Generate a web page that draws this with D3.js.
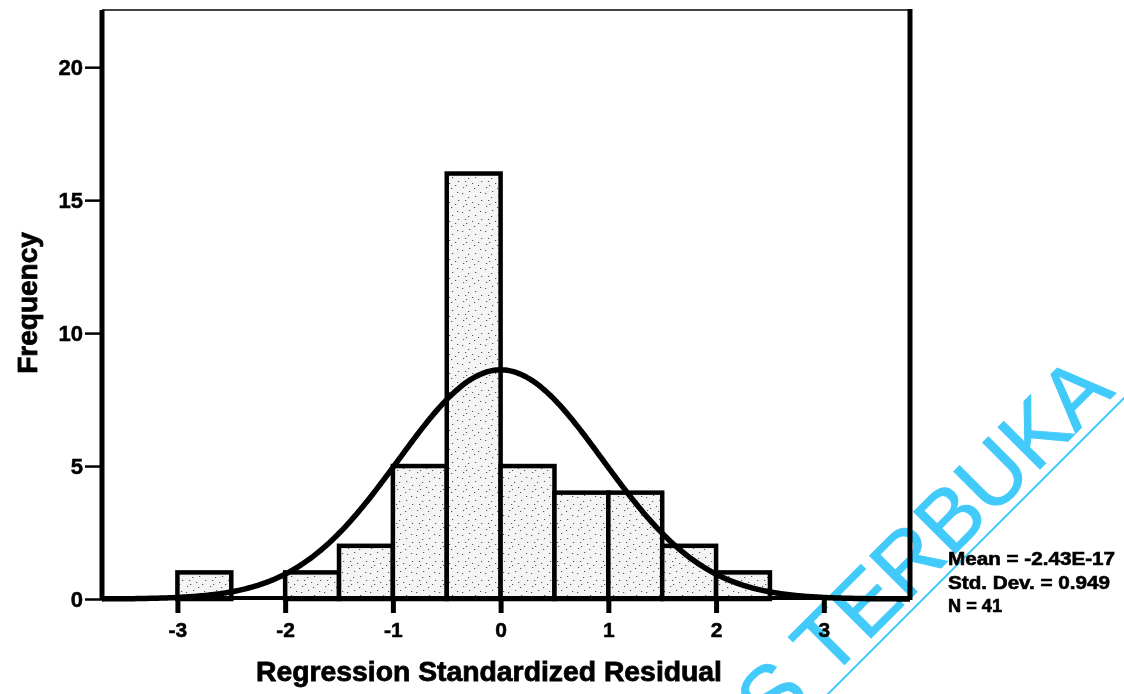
<!DOCTYPE html>
<html>
<head>
<meta charset="utf-8">
<script src="https://cdn.jsdelivr.net/npm/d3@7/dist/d3.min.js"></script>
<style>
  html, body { margin: 0; padding: 0; background: #fff; }
  svg { display: block; }
  text { font-family: "Liberation Sans", Arial, sans-serif; font-weight: bold; fill: #000; }
</style>
</head>
<body>
<svg id="chart" width="1124" height="694"></svg>
<script>
// Histogram of regression standardized residuals (bin width 0.5)
const binStarts = [-3, -2.5, -2, -1.5, -1, -0.5, 0, 0.5, 1, 1.5, 2];
const binCounts = [1, 0, 1, 2, 5, 16, 5, 4, 4, 2, 1];
const binWidth = 0.5;

// Summary statistics shown beside the plot
const statMean = -2.43e-17;
const statSd = 0.949;
const statN = 41;
const statLabels = ["Mean = -2.43E-17", "Std. Dev. = 0.949", "N = 41"];

const xTicks = [-3, -2, -1, 0, 1, 2, 3];
const yTicks = [0, 5, 10, 15, 20];

const svg = d3.select("#chart");
const plot = { left: 102, right: 910, top: 10, bottom: 599 };

const x = d3.scaleLinear().domain([-3.7, 3.8]).range([plot.left, plot.right]);
const y = d3.scaleLinear().domain([0, 22.15]).range([plot.bottom, plot.top]);

// speckled fill for the bars
const defs = svg.append("defs");
const pat = defs.append("pattern")
  .attr("id", "speckle").attr("patternUnits", "userSpaceOnUse")
  .attr("width", 23).attr("height", 19);
pat.append("rect").attr("width", 23).attr("height", 19).attr("fill", "#f4f4f4");
const specks = [[2,3],[9,1],[15,6],[20,2],[5,10],[12,12],[18,14],[3,16],[8,7],[21,10],[14,17],[6,14]];
pat.selectAll("rect.s").data(specks).join("rect").attr("class", "s")
  .attr("x", d => d[0]).attr("y", d => d[1]).attr("width", 1.2).attr("height", 1)
  .attr("fill", "#555");

// bars
const bins = binStarts.map((s, i) => ({ x0: s, x1: s + binWidth, n: binCounts[i] }));
svg.append("g").selectAll("rect").data(bins.filter(b => b.n > 0)).join("rect")
  .attr("x", d => x(d.x0))
  .attr("y", d => y(d.n))
  .attr("width", d => x(d.x1) - x(d.x0))
  .attr("height", d => y(0) - y(d.n))
  .attr("fill", "url(#speckle)")
  .attr("stroke", "#000")
  .attr("stroke-width", 4.5);

// fitted normal curve scaled to counts: N * width * pdf
const xs = d3.range(-3.7, 3.8001, 0.02);
const dens = v => statN * binWidth * Math.exp(-0.5 * ((v - statMean) / statSd) ** 2) / (statSd * Math.sqrt(2 * Math.PI));
svg.append("path")
  .datum(xs)
  .attr("d", d3.line().x(v => x(v)).y(v => y(dens(v))).curve(d3.curveBasis))
  .attr("fill", "none").attr("stroke", "#000").attr("stroke-width", 5.5);

// y axis
const yAxis = svg.append("g").attr("transform", `translate(${plot.left},0)`)
  .call(d3.axisLeft(y).tickValues(yTicks).tickSize(17).tickPadding(2).tickFormat(d => String(d)));
yAxis.select(".domain").remove();
yAxis.selectAll(".tick line").attr("stroke", "#000").attr("stroke-width", 2.5);
yAxis.selectAll(".tick text").attr("font-size", 22).attr("font-family", null)
  .attr("stroke", "#000").attr("stroke-width", 0.5);

// x axis
const xAxis = svg.append("g").attr("transform", `translate(0,${plot.bottom})`)
  .call(d3.axisBottom(x).tickValues(xTicks).tickSize(14).tickPadding(9).tickFormat(d => String(d)));
xAxis.select(".domain").remove();
xAxis.selectAll(".tick line").attr("stroke", "#000").attr("stroke-width", 5);
xAxis.selectAll(".tick text").attr("font-size", 21).attr("font-family", null)
  .attr("stroke", "#000").attr("stroke-width", 0.5);

// frame
const frame = svg.append("g").attr("stroke", "#000").attr("fill", "none");
frame.append("line").attr("x1", plot.left).attr("x2", plot.right).attr("y1", plot.top).attr("y2", plot.top)
  .attr("stroke", "#444").attr("stroke-width", 2);
frame.append("line").attr("x1", plot.left).attr("x2", plot.left).attr("y1", plot.top).attr("y2", plot.bottom + 1)
  .attr("stroke-width", 5);
frame.append("line").attr("x1", plot.right).attr("x2", plot.right).attr("y1", plot.top - 1).attr("y2", plot.bottom + 1)
  .attr("stroke-width", 5);
frame.append("line").attr("x1", plot.left).attr("x2", plot.right).attr("y1", plot.bottom - 1).attr("y2", plot.bottom - 1)
  .attr("stroke-width", 4);

// axis titles
svg.append("text")
  .attr("transform", "translate(37,303) rotate(-90)")
  .attr("text-anchor", "middle").attr("font-size", 28)
  .attr("stroke", "#000").attr("stroke-width", 0.8)
  .text("Frequency");
svg.append("text")
  .attr("x", 489).attr("y", 681)
  .attr("text-anchor", "middle").attr("font-size", 28)
  .attr("textLength", 466).attr("lengthAdjust", "spacingAndGlyphs")
  .attr("stroke", "#000").attr("stroke-width", 0.8)
  .text("Regression Standardized Residual");

// summary statistics
const statWidths = [167, 162, 54];
const statY = [565, 589, 612];
svg.append("g").selectAll("text").data(statLabels).join("text")
  .attr("x", 948).attr("y", (d, i) => statY[i])
  .attr("font-size", 18)
  .attr("textLength", (d, i) => statWidths[i])
  .attr("lengthAdjust", "spacingAndGlyphs")
  .attr("stroke", "#000").attr("stroke-width", 0.6)
  .text(d => d);

// diagonal watermark
const wm = svg.append("g").style("mix-blend-mode", "multiply");
wm.append("line")
  .attr("x1", 700).attr("y1", 822).attr("x2", 1200).attr("y2", 322)
  .attr("stroke", "#42CBFA").attr("stroke-width", 2);
wm.append("text")
  .attr("transform", "translate(1116,393) rotate(-45)")
  .attr("text-anchor", "end")
  .attr("font-size", 86)
  .style("font-weight", "normal")
  .style("fill", "#42CBFA")
  .attr("stroke", "#42CBFA").attr("stroke-width", 1)
  .text("UNIVERSITAS TERBUKA");
</script>
</body>
</html>
